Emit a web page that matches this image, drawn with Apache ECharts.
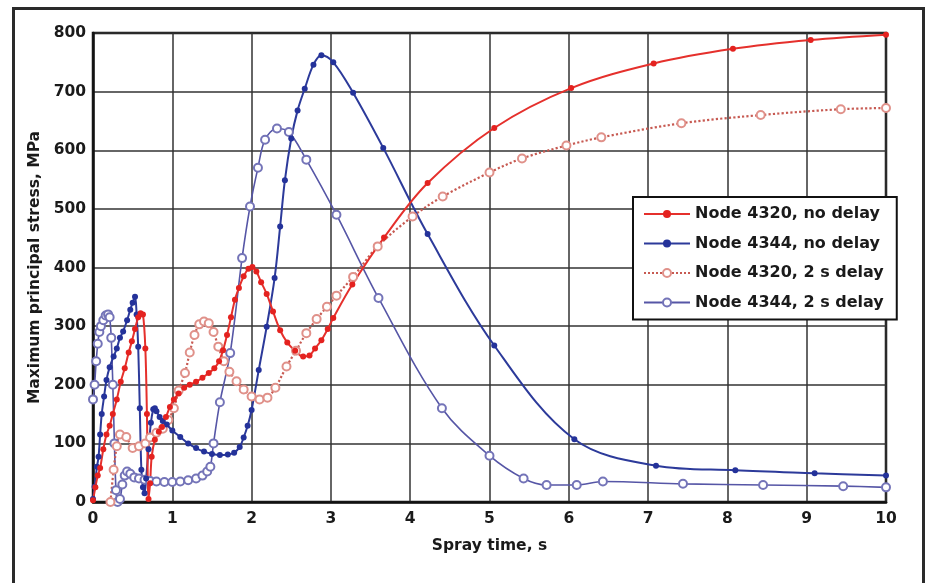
<!DOCTYPE html>
<html>
<head>
<meta charset="utf-8">
<script src="https://cdn.jsdelivr.net/npm/echarts@6/dist/echarts.min.js"></script>
<style>
html,body{margin:0;padding:0;background:#fff;}
#chart{width:927px;height:583px;}
</style>
</head>
<body>
<div id="chart"></div>
<script>
// ---- data ----
const seriesNames = ['Node 4320, no delay', 'Node 4344, no delay', 'Node 4320, 2 s delay', 'Node 4344, 2 s delay'];
const xTicks = [0,1,2,3,4,5,6,7,8,9,10];
const yTicks = [0,100,200,300,400,500,600,700,800];

// Node 4320, no delay
const red1X = [0,0.03,0.06,0.09,0.13,0.17,0.21,0.25,0.3,0.35,0.4,0.45,0.49,0.53,0.57,0.6,0.63,0.66,0.68,0.7,0.72,0.74,0.78,0.83,0.87,0.92,0.97,1.02,1.08,1.15,1.22,1.3,1.38,1.46,1.53,1.59,1.64,1.69,1.74,1.79,1.84,1.9,1.96,2.01,2.06,2.12,2.19,2.27,2.36,2.45,2.55,2.65,2.73,2.8,2.88,2.96,3.03,3.27,3.67,4.22,5.06,6.03,7.07,8.07,9.05,10];
const red1Y = [3,25,45,58,90,115,130,150,175,205,228,255,274,295,315,322,320,262,150,5,32,77,106,120,128,145,162,175,185,195,200,205,212,220,228,240,259,285,315,345,365,385,398,401,393,375,355,325,293,272,258,248,250,262,276,295,314,371,451,544,638,706,748,773,788,797];

// Node 4344, no delay
const blue1X = [0,0.02,0.05,0.07,0.09,0.11,0.14,0.17,0.21,0.26,0.3,0.34,0.38,0.43,0.47,0.5,0.53,0.55,0.57,0.59,0.61,0.63,0.65,0.67,0.7,0.73,0.76,0.78,0.8,0.84,0.88,0.93,1.0,1.1,1.2,1.3,1.4,1.5,1.6,1.7,1.78,1.85,1.9,1.95,2.0,2.09,2.19,2.29,2.36,2.42,2.5,2.58,2.67,2.78,2.88,3.03,3.28,3.66,4.22,5.06,6.07,7.1,8.1,9.1,10];
const blue1Y = [5,26,60,77,115,150,180,208,230,248,262,280,291,310,328,340,350,320,265,160,55,25,15,40,90,135,158,160,155,145,138,132,122,111,100,92,86,82,80,81,84,94,110,130,157,225,299,382,470,549,620,668,705,746,762,750,698,604,457,267,107,62,54,49,45];

// Node 4320, 2 s delay
const red2X = [0.22,0.26,0.3,0.34,0.42,0.5,0.58,0.66,0.72,0.8,0.88,0.95,1.02,1.08,1.16,1.22,1.28,1.34,1.4,1.46,1.52,1.58,1.65,1.72,1.81,1.9,2.0,2.1,2.2,2.3,2.44,2.56,2.69,2.82,2.95,3.07,3.28,3.59,4.03,4.41,5.0,5.41,5.97,6.41,7.42,8.42,9.43,10];
const red2Y = [0,55,95,115,111,92,95,100,110,118,125,140,160,190,220,255,285,303,308,305,290,265,240,222,206,192,180,175,178,195,231,258,288,312,333,352,384,436,487,521,562,586,608,622,646,660,670,672];

// Node 4344, 2 s delay
const blue2X = [0,0.02,0.04,0.06,0.08,0.1,0.13,0.16,0.19,0.21,0.23,0.25,0.27,0.29,0.31,0.34,0.37,0.4,0.43,0.47,0.52,0.58,0.65,0.72,0.8,0.9,1.0,1.1,1.2,1.3,1.38,1.44,1.48,1.52,1.6,1.73,1.88,1.98,2.08,2.17,2.32,2.47,2.69,3.07,3.6,4.4,5.0,5.43,5.72,6.1,6.43,7.44,8.45,9.46,10];
const blue2Y = [175,200,240,270,290,300,310,318,320,315,280,200,100,20,0,5,30,45,52,48,42,40,38,36,35,34,34,35,37,40,45,52,60,100,170,254,416,504,570,618,637,631,584,490,348,160,79,40,29,29,35,31,29,27,25];

// ---- build chart ----
const zip = (xs, ys) => xs.map((x, i) => [x, ys[i]]);
const FONT = 'DejaVu Sans';
const TXT = '#1a1a1a';

const chart = echarts.init(document.getElementById('chart'), null, {renderer: 'canvas'});
chart.setOption({
  backgroundColor: '#ffffff',
  animation: false,
  graphic: [{
    type: 'rect', left: 11, top: 6, z: 100, silent: true,
    shape: {width: 910, height: 600},
    style: {fill: 'none', stroke: '#2a2a2a', lineWidth: 3}
  }],
  grid: {left: 93, top: 33, right: 41, bottom: 81, show: true, borderColor: '#111', borderWidth: 2.5, backgroundColor: 'transparent'},
  legend: {
    orient: 'vertical', left: 633, top: 197,
    data: seriesNames,
    backgroundColor: '#fff', borderColor: '#111', borderWidth: 2,
    padding: [9, 13, 9, 10], itemGap: 13.5, itemWidth: 46, itemHeight: 10,
    textStyle: {fontFamily: FONT, fontWeight: 'bold', fontSize: 16, color: TXT}
  },
  xAxis: {
    type: 'value', min: xTicks[0], max: xTicks[xTicks.length - 1], interval: 1,
    name: 'Spray time, s', nameLocation: 'middle', nameGap: 36,
    nameTextStyle: {fontFamily: FONT, fontWeight: 'bold', fontSize: 15.5, color: TXT},
    axisLine: {show: true, lineStyle: {color: '#111', width: 2.5}},
    axisTick: {show: false},
    axisLabel: {fontFamily: FONT, fontWeight: 'bold', fontSize: 15.5, color: TXT, margin: 9},
    splitLine: {show: true, lineStyle: {color: '#333', width: 1.5}}
  },
  yAxis: {
    type: 'value', min: yTicks[0], max: yTicks[yTicks.length - 1], interval: 100,
    name: 'Maximum principal stress, MPa', nameLocation: 'middle', nameGap: 42,
    nameTextStyle: {fontFamily: FONT, fontWeight: 'bold', fontSize: 15.5, color: TXT},
    axisLine: {show: true, lineStyle: {color: '#111', width: 2.5}},
    axisTick: {show: false},
    axisLabel: {fontFamily: FONT, fontWeight: 'bold', fontSize: 15.5, color: TXT, margin: 7},
    splitLine: {show: true, lineStyle: {color: '#333', width: 1.5}}
  },
  series: [
    {
      name: seriesNames[3], type: 'line', data: zip(blue2X, blue2Y),
      smooth: 0.35,
      symbol: 'emptyCircle', symbolSize: 8,
      lineStyle: {color: '#5656a6', width: 1.6},
      itemStyle: {color: '#7474b8', borderColor: '#7474b8', borderWidth: 1}
    },
    {
      name: seriesNames[2], type: 'line', data: zip(red2X, red2Y),
      smooth: 0.35,
      symbol: 'emptyCircle', symbolSize: 8,
      lineStyle: {color: '#c75a52', width: 2.2, type: 'dotted'},
      itemStyle: {color: '#e0918a', borderColor: '#e0918a', borderWidth: 1}
    },
    {
      name: seriesNames[1], type: 'line', data: zip(blue1X, blue1Y),
      smooth: 0.35,
      symbol: 'circle', symbolSize: 6,
      lineStyle: {color: '#2c3a9a', width: 2},
      itemStyle: {color: '#24329a'}
    },
    {
      name: seriesNames[0], type: 'line', data: zip(red1X, red1Y),
      smooth: 0.35,
      symbol: 'circle', symbolSize: 6,
      lineStyle: {color: '#e5302c', width: 2},
      itemStyle: {color: '#e4221f'}
    }
  ]
});
</script>
</body>
</html>
